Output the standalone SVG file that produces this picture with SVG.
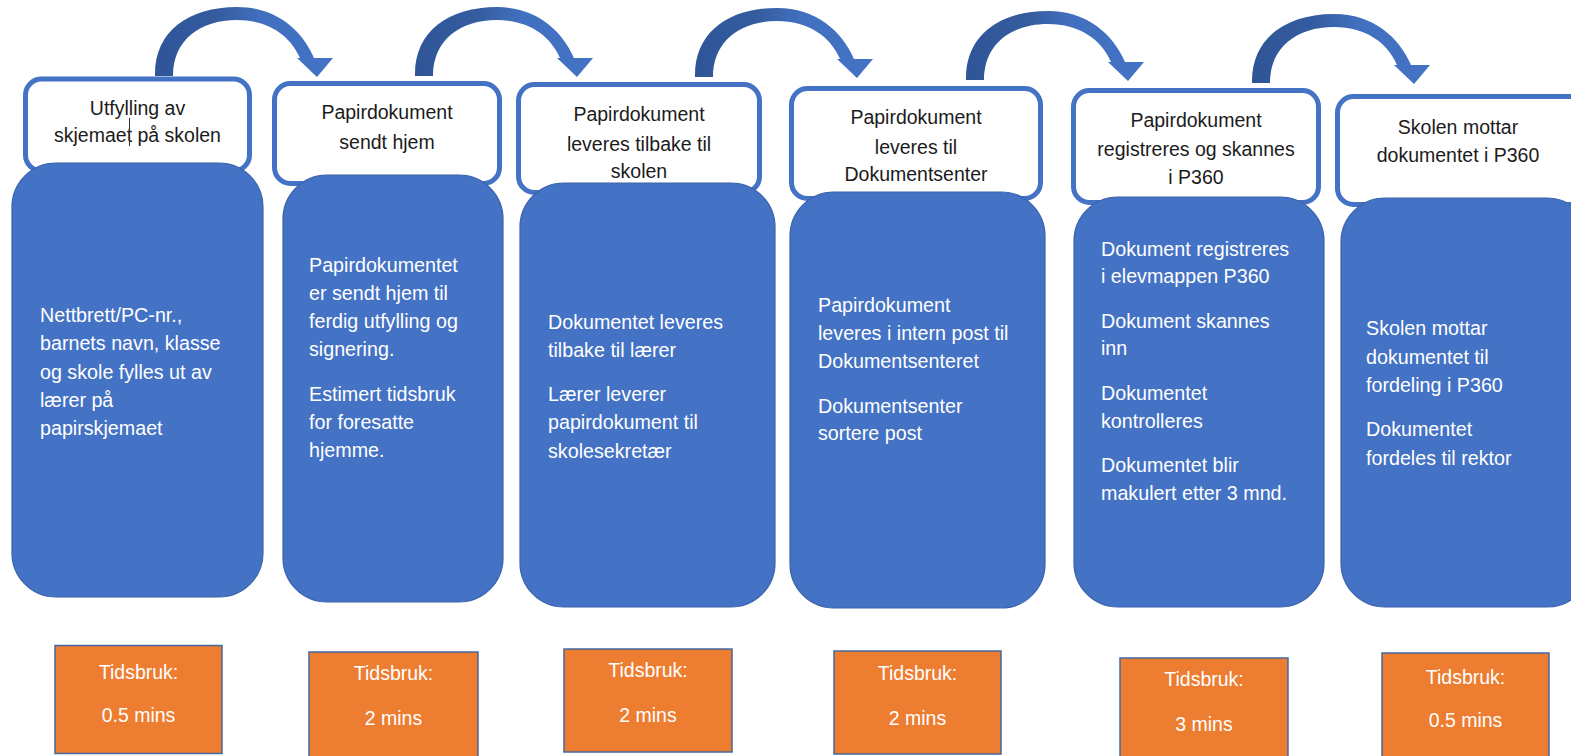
<svg xmlns="http://www.w3.org/2000/svg" xmlns:xlink="http://www.w3.org/1999/xlink" width="1571" height="756" viewBox="0 0 1571 756">
<style>
  .hdr { fill: #ffffff; stroke: #4472C4; stroke-width: 5; }
  .body { fill: #4472C4; stroke: #3B63AD; stroke-width: 1.2; }
  .time { fill: #ED7D31; stroke: #44689F; stroke-width: 1.5; }
  .ht { font-family: "Liberation Sans", Arial, sans-serif; font-size: 19.5px; fill: #1b1b1b; text-anchor: middle; }
  .bt { font-family: "Liberation Sans", Arial, sans-serif; font-size: 19.7px; fill: #ffffff; }
  .ot { font-family: "Liberation Sans", Arial, sans-serif; font-size: 19.5px; fill: #ffffff; text-anchor: middle; }
</style>
<defs>
  <linearGradient id="arrowFill" x1="0" y1="0" x2="1" y2="0">
    <stop offset="0" stop-color="#2F5597"/>
    <stop offset="0.35" stop-color="#345C9F"/>
    <stop offset="0.6" stop-color="#4270C0"/>
    <stop offset="1" stop-color="#4472C4"/>
  </linearGradient>
  <path id="carrow" d="M155,76 C154,32 188,7 237,7 C276,7 302,30 314,58 L333,58 L317,77 L297,58 L300,58 C290,35 268,20 237,20 C200,20 173,40 173,76 Z" fill="url(#arrowFill)"/>
</defs>
<rect x="0" y="0" width="1571" height="756" fill="#ffffff"/>

<g id="connectors">
  <use xlink:href="#carrow" href="#carrow"/>
  <use xlink:href="#carrow" href="#carrow" transform="translate(260,0)"/>
  <use xlink:href="#carrow" href="#carrow" transform="translate(540,1)"/>
  <use xlink:href="#carrow" href="#carrow" transform="translate(811,4)"/>
  <use xlink:href="#carrow" href="#carrow" transform="translate(1097,7)"/>
</g>

<g id="step1">
  <rect class="hdr" x="25.5" y="79" width="224" height="92" rx="16"/>
  <text class="ht" x="137.5" y="115">Utfylling av</text>
  <text class="ht" x="137.5" y="142">skjemaet på skolen</text>
  <line x1="129.5" y1="118" x2="129.5" y2="146" stroke="#333333" stroke-width="1"/>
  <rect class="body" x="12" y="163" width="251" height="434" rx="44"/>
  <text class="bt" x="40" y="322">Nettbrett/PC-nr.,</text>
  <text class="bt" x="40" y="350">barnets navn, klasse</text>
  <text class="bt" x="40" y="379">og skole fylles ut av</text>
  <text class="bt" x="40" y="407">lærer på</text>
  <text class="bt" x="40" y="435">papirskjemaet</text>
  <rect class="time" x="55" y="645.5" width="167" height="108"/>
  <text class="ot" x="138.5" y="679">Tidsbruk:</text>
  <text class="ot" x="138.5" y="722">0.5 mins</text>
</g>

<g id="step2">
  <rect class="hdr" x="274.5" y="83.5" width="225" height="100" rx="16"/>
  <text class="ht" x="387" y="119">Papirdokument</text>
  <text class="ht" x="387" y="149">sendt hjem</text>
  <rect class="body" x="283" y="175" width="220" height="427" rx="44"/>
  <text class="bt" x="309" y="272">Papirdokumentet</text>
  <text class="bt" x="309" y="300">er sendt hjem til</text>
  <text class="bt" x="309" y="328">ferdig utfylling og</text>
  <text class="bt" x="309" y="356">signering.</text>
  <text class="bt" x="309" y="401">Estimert tidsbruk</text>
  <text class="bt" x="309" y="429">for foresatte</text>
  <text class="bt" x="309" y="457">hjemme.</text>
  <rect class="time" x="309" y="652" width="169" height="110"/>
  <text class="ot" x="393.5" y="680">Tidsbruk:</text>
  <text class="ot" x="393.5" y="725">2 mins</text>
</g>

<g id="step3">
  <rect class="hdr" x="518.5" y="84.5" width="241" height="108" rx="16"/>
  <text class="ht" x="639" y="121">Papirdokument</text>
  <text class="ht" x="639" y="151">leveres tilbake til</text>
  <text class="ht" x="639" y="178">skolen</text>
  <rect class="body" x="520" y="183" width="255" height="424" rx="44"/>
  <text class="bt" x="548" y="329">Dokumentet leveres</text>
  <text class="bt" x="548" y="357">tilbake til lærer</text>
  <text class="bt" x="548" y="401">Lærer leverer</text>
  <text class="bt" x="548" y="429">papirdokument til</text>
  <text class="bt" x="548" y="458">skolesekretær</text>
  <rect class="time" x="564" y="649" width="168" height="103"/>
  <text class="ot" x="648" y="677">Tidsbruk:</text>
  <text class="ot" x="648" y="722">2 mins</text>
</g>

<g id="step4">
  <rect class="hdr" x="791.5" y="88.5" width="249" height="110" rx="16"/>
  <text class="ht" x="916" y="124">Papirdokument</text>
  <text class="ht" x="916" y="154">leveres til</text>
  <text class="ht" x="916" y="181">Dokumentsenter</text>
  <rect class="body" x="790" y="192" width="255" height="416" rx="44"/>
  <text class="bt" x="818" y="312">Papirdokument</text>
  <text class="bt" x="818" y="340">leveres i intern post til</text>
  <text class="bt" x="818" y="368">Dokumentsenteret</text>
  <text class="bt" x="818" y="413">Dokumentsenter</text>
  <text class="bt" x="818" y="440">sortere post</text>
  <rect class="time" x="834" y="651" width="167" height="103"/>
  <text class="ot" x="917.5" y="680">Tidsbruk:</text>
  <text class="ot" x="917.5" y="725">2 mins</text>
</g>

<g id="step5">
  <rect class="hdr" x="1073.5" y="90.5" width="245" height="112" rx="16"/>
  <text class="ht" x="1196" y="127">Papirdokument</text>
  <text class="ht" x="1196" y="156">registreres og skannes</text>
  <text class="ht" x="1196" y="184">i P360</text>
  <rect class="body" x="1074" y="197" width="250" height="410" rx="44"/>
  <text class="bt" x="1101" y="256">Dokument registreres</text>
  <text class="bt" x="1101" y="283">i elevmappen P360</text>
  <text class="bt" x="1101" y="328">Dokument skannes</text>
  <text class="bt" x="1101" y="355">inn</text>
  <text class="bt" x="1101" y="400">Dokumentet</text>
  <text class="bt" x="1101" y="428">kontrolleres</text>
  <text class="bt" x="1101" y="472">Dokumentet blir</text>
  <text class="bt" x="1101" y="500">makulert etter 3 mnd.</text>
  <rect class="time" x="1120" y="658" width="168" height="105"/>
  <text class="ot" x="1204" y="686">Tidsbruk:</text>
  <text class="ot" x="1204" y="731">3 mins</text>
</g>

<g id="step6">
  <rect class="hdr" x="1337.5" y="96.5" width="260" height="108" rx="16"/>
  <text class="ht" x="1458" y="134">Skolen mottar</text>
  <text class="ht" x="1458" y="162">dokumentet i P360</text>
  <rect class="body" x="1341" y="198" width="250" height="409" rx="44"/>
  <text class="bt" x="1366" y="335">Skolen mottar</text>
  <text class="bt" x="1366" y="364">dokumentet til</text>
  <text class="bt" x="1366" y="392">fordeling i P360</text>
  <text class="bt" x="1366" y="436">Dokumentet</text>
  <text class="bt" x="1366" y="465">fordeles til rektor</text>
  <rect class="time" x="1382" y="653" width="167" height="110"/>
  <text class="ot" x="1465.5" y="684">Tidsbruk:</text>
  <text class="ot" x="1465.5" y="727">0.5 mins</text>
</g>
</svg>
